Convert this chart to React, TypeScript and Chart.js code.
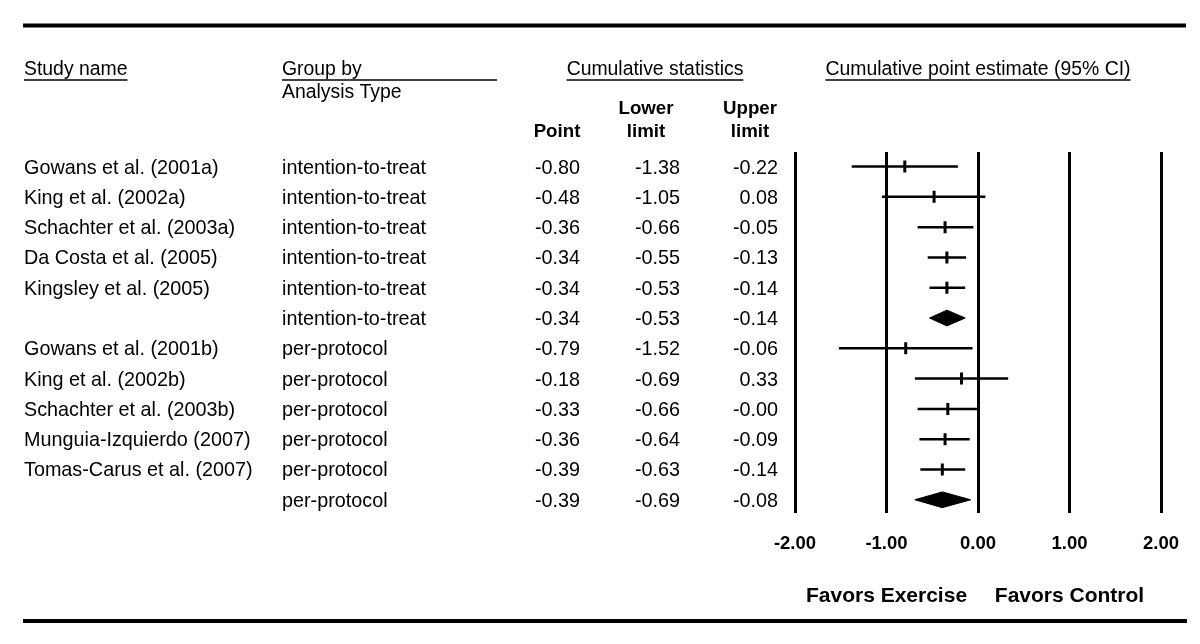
import React, { useEffect, useRef } from "react";
import { Chart, registerables } from "chart.js";

Chart.register(...registerables);

const studyNames = [
  "Gowans et al. (2001a)",
  "King et al. (2002a)",
  "Schachter et al. (2003a)",
  "Da Costa et al. (2005)",
  "Kingsley et al. (2005)",
  "",
  "Gowans et al. (2001b)",
  "King et al. (2002b)",
  "Schachter et al. (2003b)",
  "Munguia-Izquierdo (2007)",
  "Tomas-Carus et al. (2007)",
  "",
];
const analysisTypes = [
  "intention-to-treat",
  "intention-to-treat",
  "intention-to-treat",
  "intention-to-treat",
  "intention-to-treat",
  "intention-to-treat",
  "per-protocol",
  "per-protocol",
  "per-protocol",
  "per-protocol",
  "per-protocol",
  "per-protocol",
];
const pointValues = [-0.8, -0.48, -0.36, -0.34, -0.34, -0.34, -0.79, -0.18, -0.33, -0.36, -0.39, -0.39];
const lowerValues = [-1.38, -1.05, -0.66, -0.55, -0.53, -0.53, -1.52, -0.69, -0.66, -0.64, -0.63, -0.69];
const upperValues = [-0.22, 0.08, -0.05, -0.13, -0.14, -0.14, -0.06, 0.33, -0.001, -0.09, -0.14, -0.08];
const isSummary = [false, false, false, false, false, true, false, false, false, false, false, true];
const xTicks = [-2, -1, 0, 1, 2];
const favorLabels = [
  { x: -1, text: "Favors Exercise" },
  { x: 1, text: "Favors Control" },
];

const FONT = '"Liberation Sans", Arial, Helvetica, sans-serif';
const DIAMOND_HALF = 0.26;

const fmt = (v: number) => v.toFixed(2);

const tablePlugin = {
  id: "forestTable",
  afterDraw(chart: any) {
    const ctx = chart.ctx as CanvasRenderingContext2D;
    const y = chart.scales.y;
    const x = chart.scales.x;
    ctx.save();
    ctx.fillStyle = "#000";
    ctx.strokeStyle = "#000";

    // top & bottom rules
    ctx.lineWidth = 4;
    ctx.beginPath();
    ctx.moveTo(23, 25.5);
    ctx.lineTo(1186, 25.5);
    ctx.moveTo(23, 621);
    ctx.lineTo(1187, 621);
    ctx.stroke();

    // headers
    ctx.textBaseline = "middle";
    ctx.font = `19.4px ${FONT}`;
    const underline = (x0: number, x1: number, yy: number) => {
      ctx.lineWidth = 1.5;
      ctx.beginPath();
      ctx.moveTo(x0, yy);
      ctx.lineTo(x1, yy);
      ctx.stroke();
    };
    ctx.textAlign = "left";
    ctx.fillText("Study name", 24, 70);
    underline(24, 24 + ctx.measureText("Study name").width, 80);
    ctx.fillText("Group by", 282, 70);
    underline(282, 497, 80);
    ctx.fillText("Analysis Type", 282, 93);
    ctx.textAlign = "center";
    const cs = "Cumulative statistics";
    ctx.fillText(cs, 655, 70);
    const csw = ctx.measureText(cs).width;
    underline(655 - csw / 2, 655 + csw / 2, 80);
    const cp = "Cumulative point estimate (95% CI)";
    ctx.fillText(cp, 978, 70);
    const cpw = ctx.measureText(cp).width;
    underline(978 - cpw / 2, 978 + cpw / 2, 80);

    ctx.font = `bold 18.7px ${FONT}`;
    ctx.fillText("Point", 557, 132);
    ctx.fillText("Lower", 646, 109);
    ctx.fillText("limit", 646, 132);
    ctx.fillText("Upper", 750, 109);
    ctx.fillText("limit", 750, 132);

    // rows
    ctx.font = `19.8px ${FONT}`;
    for (let i = 0; i < studyNames.length; i++) {
      const py = y.getPixelForValue(i) + 1.5;
      ctx.textAlign = "left";
      if (studyNames[i]) ctx.fillText(studyNames[i], 24, py);
      ctx.fillText(analysisTypes[i], 282, py);
      ctx.textAlign = "right";
      ctx.fillText(fmt(pointValues[i]), 580, py);
      ctx.fillText(fmt(lowerValues[i]), 680, py);
      ctx.fillText(fmt(upperValues[i]), 778, py);
    }

    // favors labels
    ctx.font = `bold 21px ${FONT}`;
    ctx.textAlign = "center";
    for (const f of favorLabels) {
      ctx.fillText(f.text, x.getPixelForValue(f.x), 596);
    }
    ctx.restore();
  },
};

export default function App() {
  const ref = useRef<HTMLCanvasElement | null>(null);
  useEffect(() => {
    if (!ref.current) return;
    const datasets: any[] = [];
    pointValues.forEach((p, i) => {
      if (isSummary[i]) {
        datasets.push({
          type: "scatter",
          data: [
            { x: lowerValues[i], y: i },
            { x: p, y: i - DIAMOND_HALF },
            { x: upperValues[i], y: i },
            { x: p, y: i + DIAMOND_HALF },
            { x: lowerValues[i], y: i },
          ],
          showLine: true,
          fill: "shape",
          backgroundColor: "#000",
          borderColor: "#000",
          borderWidth: 1,
          pointRadius: 0,
          tension: 0,
        });
      } else {
        datasets.push({
          type: "scatter",
          data: [
            { x: lowerValues[i], y: i },
            { x: upperValues[i], y: i },
          ],
          showLine: true,
          borderColor: "#000",
          borderWidth: 2.5,
          pointRadius: 0,
        });
      }
    });
    datasets.push({
      type: "scatter",
      data: pointValues
        .map((p, i) => ({ x: p, y: i }))
        .filter((_, i) => !isSummary[i]),
      pointStyle: "line",
      rotation: 90,
      pointRadius: 6,
      borderColor: "#000",
      backgroundColor: "#000",
      pointBorderWidth: 3,
      borderWidth: 3,
    });

    const chart = new Chart(ref.current, {
      type: "scatter",
      data: { datasets },
      options: {
        animation: false,
        responsive: false,
        devicePixelRatio: 1,
        layout: { padding: { left: 795, right: 39, top: 152, bottom: 69 } },
        plugins: { legend: { display: false }, tooltip: { enabled: false } },
        scales: {
          x: {
            type: "linear",
            min: -2,
            max: 2,
            afterBuildTicks: (scale: any) => {
              scale.ticks = xTicks.map((v) => ({ value: v }));
            },
            ticks: {
              color: "#000",
              padding: 20,
              font: { family: FONT, size: 18.5, weight: "bold" },
              callback: (v: any) => Number(v).toFixed(2),
              maxRotation: 0,
              autoSkip: false,
            },
            grid: { color: "#000", lineWidth: 3, drawTicks: false },
            border: { display: false },
          },
          y: {
            type: "linear",
            display: false,
            min: -0.48,
            max: 11.43,
            reverse: true,
          },
        },
      },
      plugins: [tablePlugin],
    } as any);
    return () => chart.destroy();
  }, []);
  return (
    <div style={{ position: "absolute", left: 0, top: 0, width: 1200, height: 644, background: "#fff" }}>
      <canvas ref={ref} width={1200} height={644} />
    </div>
  );
}
